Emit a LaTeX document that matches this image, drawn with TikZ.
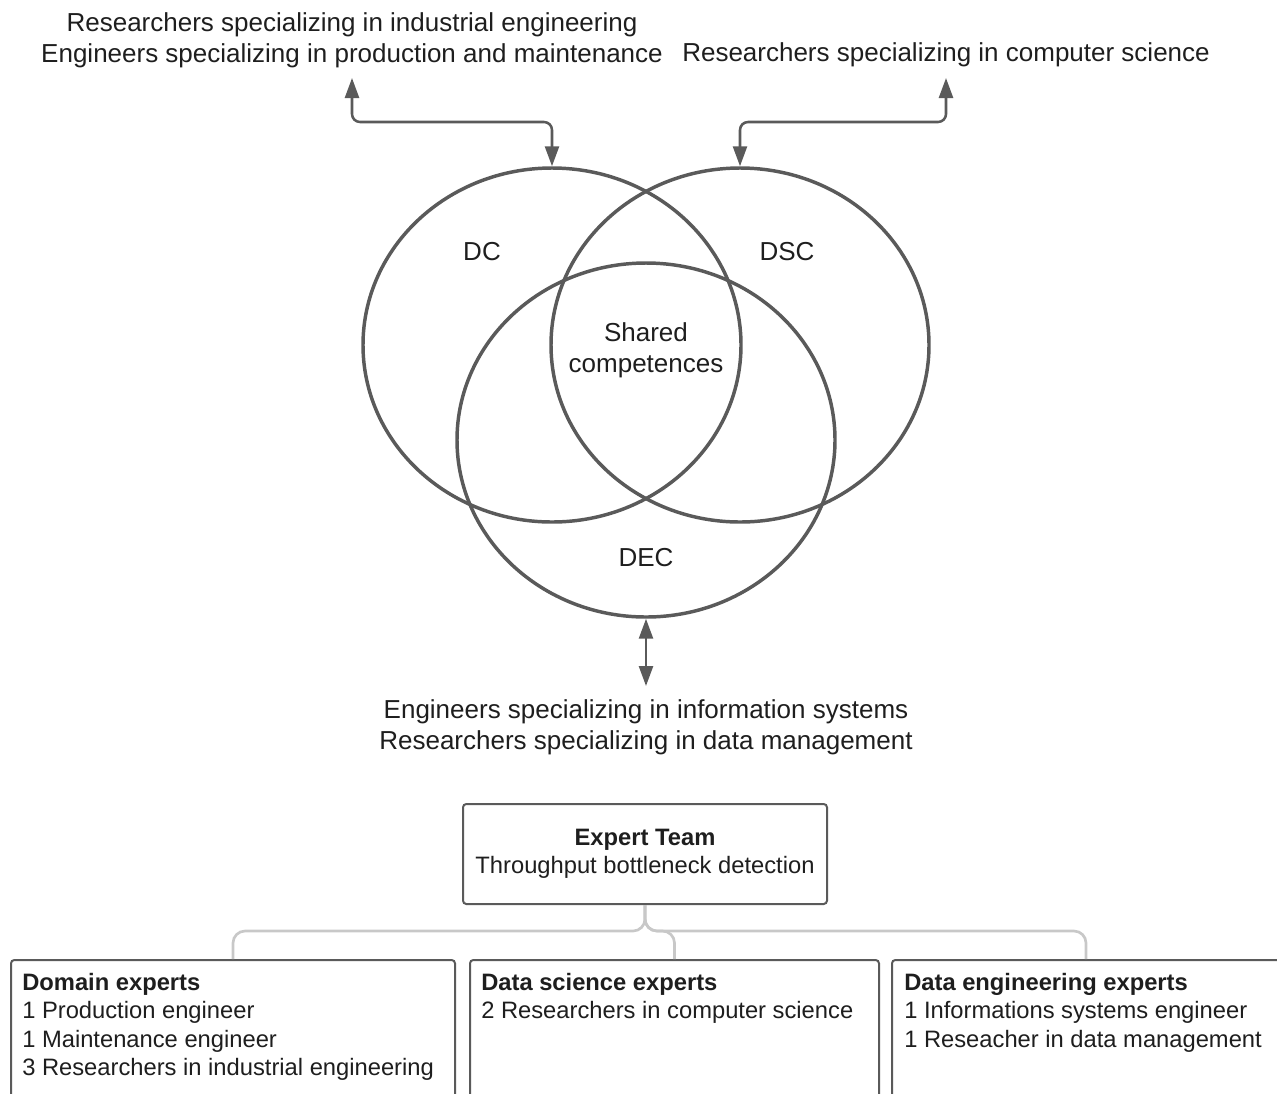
\documentclass[tikz,border=0pt]{standalone}
\usepackage{fontspec}
\setmainfont{Liberation Sans}
\usetikzlibrary{shapes.geometric,arrows.meta}

\definecolor{ink}{HTML}{1E1E1E}
\definecolor{edge}{HTML}{5A5A5A}
\definecolor{branch}{HTML}{C8C8C8}

\begin{document}
\begin{tikzpicture}[x=0.75pt,y=-0.75pt,
  set/.style={draw=edge,line width=2.6pt,ellipse,minimum width=283.5pt,
    minimum height=265.5pt,inner sep=0pt},
  biglbl/.style={text=ink,font=\fontsize{19.5}{23.5}\selectfont,align=center,inner sep=0pt},
  link/.style={draw=edge,line width=1.9pt,rounded corners=6pt,
    {Triangle[length=15pt,width=10.5pt]}-{Triangle[length=15pt,width=10.5pt]}},
  teambox/.style={draw=edge,line width=1.5pt,rounded corners=2.5pt,inner sep=0pt,fill=white},
  boxtxt/.style={text=ink,font=\fontsize{17.8}{21.2}\selectfont,align=left,inner sep=0pt},
  branchline/.style={draw=branch,line width=2pt,rounded corners=9pt},
]
\useasboundingbox (0,0) rectangle (1277,1093);
\clip (0,0) rectangle (1277,1093);

% the three competence sets
\node[set] (dc)  at (552,345) {};
\node[set] (dsc) at (740,345) {};
\node[set] (dec) at (646,440) {};

\node[biglbl] (ldc)  at (482,252) {DC};
\node[biglbl] (ldsc) at (787,252) {DSC};
\node[biglbl] (ldec) at (646,558) {DEC};
\node[biglbl] (shared) at (646,350) {Shared\\competences};

% profiles attached to each set
\node[biglbl] (tl) at (352,40) {Researchers specializing in industrial engineering\\Engineers specializing in production and maintenance};
\node[biglbl] (tr) at (946,55) {Researchers specializing in computer science};
\node[biglbl] (bt) at (646,727) {Engineers specializing in information systems\\Researchers specializing in data management};

\coordinate (tlTip) at (352,78);
\coordinate (trTip) at (946,78);
\coordinate (btTip) at (646,686);

\draw[link] (dc.north) -- (dc.north |- 0,122) -- (tlTip |- 0,122) -- (tlTip);
\draw[link] (dsc.north) -- (dsc.north |- 0,122) -- (trTip |- 0,122) -- (trTip);
\draw[link] (dec.south) -- (btTip);

% team structure
\node[teambox,minimum width=273pt,minimum height=75pt] (team) at (645,854) {};
\node[boxtxt,align=center] (teamtxt) at (645,854) {\textbf{Expert Team}\\Throughput bottleneck detection};

\node[teambox,anchor=north,minimum width=333pt,minimum height=150pt] (dom) at (233,959) {};
\node[teambox,anchor=north,minimum width=306.75pt,minimum height=150pt] (dsx) at (674.5,959) {};
\node[teambox,anchor=north,minimum width=291pt,minimum height=150pt] (dex) at (1086,959) {};

\draw[branchline] (team.south) -- (team.south |- 0,931) -- (dom.north |- 0,931) -- (dom.north);
\draw[branchline] (team.south) -- (team.south |- 0,931) -- (dsx.north |- 0,931) -- (dsx.north);
\draw[branchline] (team.south) -- (team.south |- 0,931) -- (dex.north |- 0,931) -- (dex.north);

\node[boxtxt,anchor=north west] (domtxt) at ([xshift=9pt,yshift=-10.5pt]dom.north west)
  {\textbf{Domain experts}\\1 Production engineer\\1 Maintenance engineer\\3 Researchers in industrial engineering};
\node[boxtxt,anchor=north west] (dsxtxt) at ([xshift=9pt,yshift=-10.5pt]dsx.north west)
  {\textbf{Data science experts}\\2 Researchers in computer science};
\node[boxtxt,anchor=north west] (dextxt) at ([xshift=9.75pt,yshift=-10.5pt]dex.north west)
  {\textbf{Data engineering experts}\\1 Informations systems engineer\\1 Reseacher in data management};
\end{tikzpicture}
\end{document}
